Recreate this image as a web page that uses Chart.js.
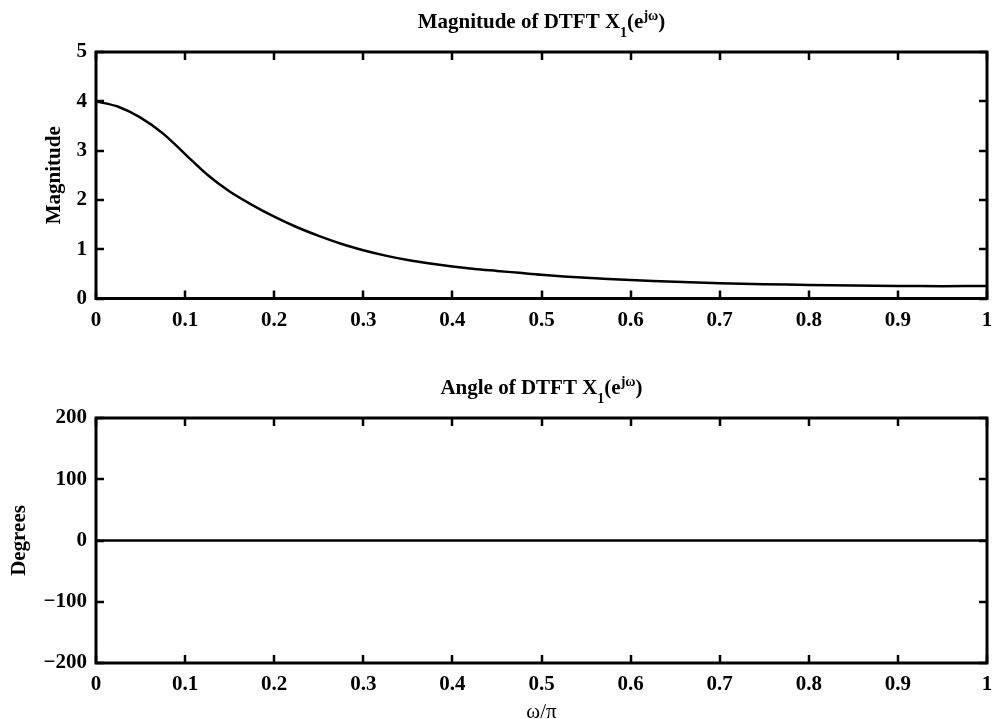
<!DOCTYPE html>
<html>
<head>
<meta charset="utf-8">
<script src="https://cdn.jsdelivr.net/npm/chart.js@4.4.1/dist/chart.umd.min.js"></script>
<style>
  html, body { margin: 0; padding: 0; background: #fff; overflow: hidden; }
  .box { position: absolute; left: 0; width: 992px; }
  #top { top: 0; height: 345px; }
  #bottom { top: 345px; height: 380px; }
</style>
</head>
<body>
<div class="box" id="top"><canvas id="magChart"></canvas></div>
<div class="box" id="bottom"><canvas id="angChart"></canvas></div>
<script>
// data
const omega = [0, 0.025, 0.05, 0.075, 0.1, 0.125, 0.15, 0.175, 0.2, 0.225, 0.25, 0.275, 0.3, 0.325, 0.35, 0.375, 0.4, 0.425, 0.45, 0.475, 0.5, 0.55, 0.6, 0.65, 0.7, 0.75, 0.8, 0.85, 0.9, 0.95, 1.0];
const magnitude = [4.0, 3.89, 3.67, 3.35, 2.93, 2.51, 2.17, 1.90, 1.66, 1.45, 1.27, 1.11, 0.98, 0.87, 0.78, 0.71, 0.65, 0.60, 0.56, 0.52, 0.48, 0.42, 0.375, 0.34, 0.31, 0.29, 0.275, 0.265, 0.255, 0.25, 0.255];
const angleOmega = [0, 1];
const angleDeg = [0, 0];

const xTicks = [0, 0.1, 0.2, 0.3, 0.4, 0.5, 0.6, 0.7, 0.8, 0.9, 1];
const magTicks = [0, 1, 2, 3, 4, 5];
const angTicks = [-200, -100, 0, 100, 200];

const magTitle = [{t: 'Magnitude of DTFT X'}, {t: '1', sub: true}, {t: '(e'}, {t: 'j\u03c9', sup: true}, {t: ')'}];
const angTitle = [{t: 'Angle of DTFT X'}, {t: '1', sub: true}, {t: '(e'}, {t: 'j\u03c9', sup: true}, {t: ')'}];

const FAM = '"Liberation Serif", "Times New Roman", serif';
const bigFont = 'bold 21px ' + FAM;
const smallFont = 'bold 14px ' + FAM;

function toPoints(xs, ys) {
  return xs.map((x, i) => ({x: x, y: ys[i]}));
}

// box with inward ticks on all four sides, like matlab
const boxPlugin = {
  id: 'boxTicks',
  afterDraw(chart) {
    const ctx = chart.ctx;
    const a = chart.chartArea;
    const xs = chart.scales.x, ys = chart.scales.y;
    ctx.save();
    ctx.strokeStyle = '#000';
    ctx.lineWidth = 3;
    ctx.strokeRect(a.left, a.top, a.right - a.left, a.bottom - a.top);
    ctx.lineWidth = 2.5;
    ctx.beginPath();
    xs.ticks.forEach(function(t) {
      const px = Math.round(xs.getPixelForValue(t.value));
      ctx.moveTo(px, a.bottom); ctx.lineTo(px, a.bottom - 8);
      ctx.moveTo(px, a.top); ctx.lineTo(px, a.top + 8);
    });
    ys.ticks.forEach(function(t) {
      const py = Math.round(ys.getPixelForValue(t.value));
      ctx.moveTo(a.left, py); ctx.lineTo(a.left + 8, py);
      ctx.moveTo(a.right, py); ctx.lineTo(a.right - 8, py);
    });
    ctx.stroke();

    // title with sub / superscript
    const parts = chart.options.plugins.boxTicks.title;
    let w = 0;
    parts.forEach(function(p) {
      ctx.font = (p.sub || p.sup) ? smallFont : bigFont;
      p.w = ctx.measureText(p.t).width;
      w += p.w;
    });
    let x = (a.left + a.right) / 2 - w / 2;
    const base = a.top - 24;
    ctx.fillStyle = '#000';
    ctx.textBaseline = 'alphabetic';
    ctx.textAlign = 'left';
    parts.forEach(function(p) {
      ctx.font = (p.sub || p.sup) ? smallFont : bigFont;
      let y = base;
      if (p.sub) y += 9;
      if (p.sup) y -= 8;
      ctx.fillText(p.t, x, y);
      x += p.w;
    });
    ctx.restore();
  }
};

function makeChart(id, pts, yTicks, yMin, yMax, yLabel, yLabelPad, xLabel, padTop, xHeight, title) {
  const ctx = document.getElementById(id).getContext('2d');
  return new Chart(ctx, {
    type: 'scatter',
    data: {
      datasets: [{
        data: pts,
        showLine: true,
        borderColor: '#000',
        borderWidth: 2.5,
        pointRadius: 0,
        tension: 0.3
      }]
    },
    options: {
      responsive: true,
      maintainAspectRatio: false,
      animation: false,
      layout: { padding: { left: 0, right: 5, top: padTop, bottom: 0 } },
      plugins: {
        legend: { display: false },
        tooltip: { enabled: false },
        boxTicks: { title: title }
      },
      scales: {
        x: {
          type: 'linear',
          min: 0, max: 1,
          grid: { display: false, drawTicks: false },
          border: { display: false },
          afterBuildTicks: function(s) { s.ticks = xTicks.map(v => ({value: v})); },
          afterFit: function(s) { s.height = xHeight; s.paddingLeft = 0; s.paddingRight = 0; },
          ticks: {
            color: '#000',
            padding: 9,
            maxRotation: 0,
            font: { family: FAM, size: 21, weight: 'bold' },
            callback: v => String(v)
          },
          title: {
            display: !!xLabel,
            text: xLabel,
            color: '#000',
            padding: { top: 0, bottom: 0 },
            font: { family: FAM, size: 21, weight: 'normal' }
          }
        },
        y: {
          min: yMin, max: yMax,
          grid: { display: false, drawTicks: false },
          border: { display: false },
          afterBuildTicks: function(s) { s.ticks = yTicks.map(v => ({value: v})); },
          afterFit: function(s) { s.width = 96; s.paddingTop = 0; s.paddingBottom = 0; },
          ticks: {
            color: '#000',
            padding: 9,
            font: { family: FAM, size: 21, weight: 'bold' },
            callback: v => String(v).replace('-', '\u2212')
          },
          title: {
            display: true,
            text: yLabel,
            color: '#000',
            padding: { top: yLabelPad, bottom: 0 },
            font: { family: FAM, size: 21, weight: 'bold' }
          }
        }
      }
    },
    plugins: [boxPlugin]
  });
}

makeChart('magChart', toPoints(omega, magnitude), magTicks, 0, 5, 'Magnitude', 42, '', 52, 46.5, magTitle);
makeChart('angChart', toPoints(angleOmega, angleDeg), angTicks, -200, 200, 'Degrees', 7, '\u03c9/\u03c0', 73, 62, angTitle);
</script>
</body>
</html>
